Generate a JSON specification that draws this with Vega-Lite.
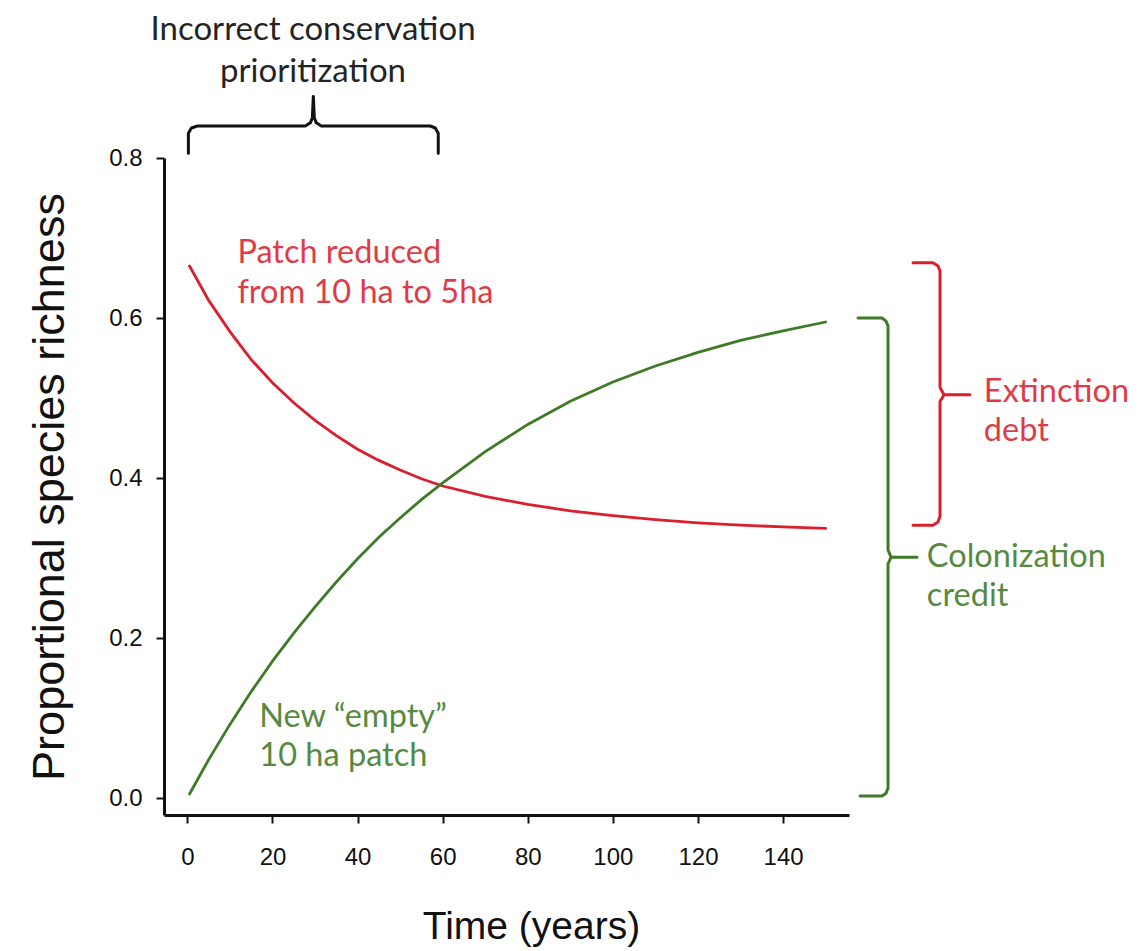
{
  "$schema": "https://vega.github.io/schema/vega-lite/v6.json",
  "width": 685,
  "height": 657,
  "autosize": {"type": "none"},
  "padding": {"left": 164, "top": 158, "right": 291, "bottom": 136},
  "background": "white",
  "config": {
    "view": {"stroke": null},
    "axis": {"grid": false}
  },
  "datasets": {
    "curves": [
      {"kind": "extinction", "time": 0.5, "richness": 0.665},
      {"kind": "extinction", "time": 5, "richness": 0.622},
      {"kind": "extinction", "time": 10, "richness": 0.583},
      {"kind": "extinction", "time": 15, "richness": 0.548},
      {"kind": "extinction", "time": 20, "richness": 0.519},
      {"kind": "extinction", "time": 25, "richness": 0.494},
      {"kind": "extinction", "time": 30, "richness": 0.472},
      {"kind": "extinction", "time": 35, "richness": 0.453},
      {"kind": "extinction", "time": 40, "richness": 0.436},
      {"kind": "extinction", "time": 45, "richness": 0.422},
      {"kind": "extinction", "time": 50, "richness": 0.41},
      {"kind": "extinction", "time": 55, "richness": 0.399},
      {"kind": "extinction", "time": 60, "richness": 0.39},
      {"kind": "extinction", "time": 70, "richness": 0.377},
      {"kind": "extinction", "time": 80, "richness": 0.367},
      {"kind": "extinction", "time": 90, "richness": 0.359},
      {"kind": "extinction", "time": 100, "richness": 0.353},
      {"kind": "extinction", "time": 110, "richness": 0.348},
      {"kind": "extinction", "time": 120, "richness": 0.344},
      {"kind": "extinction", "time": 130, "richness": 0.341},
      {"kind": "extinction", "time": 140, "richness": 0.339},
      {"kind": "extinction", "time": 150, "richness": 0.337},
      {"kind": "colonization", "time": 0.5, "richness": 0.005},
      {"kind": "colonization", "time": 5, "richness": 0.048},
      {"kind": "colonization", "time": 10, "richness": 0.092},
      {"kind": "colonization", "time": 15, "richness": 0.133},
      {"kind": "colonization", "time": 20, "richness": 0.171},
      {"kind": "colonization", "time": 25, "richness": 0.206},
      {"kind": "colonization", "time": 30, "richness": 0.239},
      {"kind": "colonization", "time": 35, "richness": 0.27},
      {"kind": "colonization", "time": 40, "richness": 0.299},
      {"kind": "colonization", "time": 45, "richness": 0.326},
      {"kind": "colonization", "time": 50, "richness": 0.35},
      {"kind": "colonization", "time": 55, "richness": 0.373},
      {"kind": "colonization", "time": 60, "richness": 0.394},
      {"kind": "colonization", "time": 70, "richness": 0.433},
      {"kind": "colonization", "time": 80, "richness": 0.467},
      {"kind": "colonization", "time": 90, "richness": 0.496},
      {"kind": "colonization", "time": 100, "richness": 0.52},
      {"kind": "colonization", "time": 110, "richness": 0.54},
      {"kind": "colonization", "time": 120, "richness": 0.557},
      {"kind": "colonization", "time": 130, "richness": 0.572},
      {"kind": "colonization", "time": 140, "richness": 0.584},
      {"kind": "colonization", "time": 150, "richness": 0.595}
    ],
    "braces": [
      {"brace": "top", "kind": "neutral", "order": 1, "time": 0.23, "richness": 0.806},
      {"brace": "top", "kind": "neutral", "order": 2, "time": 0.23, "richness": 0.831},
      {"brace": "top", "kind": "neutral", "order": 3, "time": 0.94, "richness": 0.8375},
      {"brace": "top", "kind": "neutral", "order": 4, "time": 2.35, "richness": 0.84},
      {"brace": "top", "kind": "neutral", "order": 5, "time": 27.72, "richness": 0.84},
      {"brace": "top", "kind": "neutral", "order": 6, "time": 28.89, "richness": 0.844},
      {"brace": "top", "kind": "neutral", "order": 7, "time": 29.36, "richness": 0.85},
      {"brace": "top", "kind": "neutral", "order": 8, "time": 29.6, "richness": 0.877},
      {"brace": "top", "kind": "neutral", "order": 9, "time": 29.83, "richness": 0.85},
      {"brace": "top", "kind": "neutral", "order": 10, "time": 30.3, "richness": 0.844},
      {"brace": "top", "kind": "neutral", "order": 11, "time": 31.48, "richness": 0.84},
      {"brace": "top", "kind": "neutral", "order": 12, "time": 57.08, "richness": 0.84},
      {"brace": "top", "kind": "neutral", "order": 13, "time": 58.26, "richness": 0.8375},
      {"brace": "top", "kind": "neutral", "order": 14, "time": 58.96, "richness": 0.831},
      {"brace": "top", "kind": "neutral", "order": 15, "time": 58.96, "richness": 0.806},
      {"brace": "red", "kind": "extinction", "order": 1, "time": 170.55, "richness": 0.669},
      {"brace": "red", "kind": "extinction", "order": 2, "time": 175.24, "richness": 0.669},
      {"brace": "red", "kind": "extinction", "order": 3, "time": 176.42, "richness": 0.665},
      {"brace": "red", "kind": "extinction", "order": 4, "time": 176.89, "richness": 0.659},
      {"brace": "red", "kind": "extinction", "order": 5, "time": 176.89, "richness": 0.513},
      {"brace": "red", "kind": "extinction", "order": 6, "time": 177.83, "richness": 0.504},
      {"brace": "red", "kind": "extinction", "order": 7, "time": 183.93, "richness": 0.504},
      {"brace": "red", "kind": "extinction", "order": 8, "time": 177.83, "richness": 0.504},
      {"brace": "red", "kind": "extinction", "order": 9, "time": 176.89, "richness": 0.4955},
      {"brace": "red", "kind": "extinction", "order": 10, "time": 176.89, "richness": 0.3525},
      {"brace": "red", "kind": "extinction", "order": 11, "time": 176.42, "richness": 0.345},
      {"brace": "red", "kind": "extinction", "order": 12, "time": 175.24, "richness": 0.341},
      {"brace": "red", "kind": "extinction", "order": 13, "time": 170.55, "richness": 0.341},
      {"brace": "green", "kind": "colonization", "order": 1, "time": 157.62, "richness": 0.6},
      {"brace": "green", "kind": "colonization", "order": 2, "time": 163.26, "richness": 0.6},
      {"brace": "green", "kind": "colonization", "order": 3, "time": 164.2, "richness": 0.596},
      {"brace": "green", "kind": "colonization", "order": 4, "time": 164.67, "richness": 0.59},
      {"brace": "green", "kind": "colonization", "order": 5, "time": 164.67, "richness": 0.31},
      {"brace": "green", "kind": "colonization", "order": 6, "time": 165.38, "richness": 0.301},
      {"brace": "green", "kind": "colonization", "order": 7, "time": 171.49, "richness": 0.301},
      {"brace": "green", "kind": "colonization", "order": 8, "time": 165.38, "richness": 0.301},
      {"brace": "green", "kind": "colonization", "order": 9, "time": 164.67, "richness": 0.2925},
      {"brace": "green", "kind": "colonization", "order": 10, "time": 164.67, "richness": 0.0125},
      {"brace": "green", "kind": "colonization", "order": 11, "time": 164.2, "richness": 0.006},
      {"brace": "green", "kind": "colonization", "order": 12, "time": 163.26, "richness": 0.0025},
      {"brace": "green", "kind": "colonization", "order": 13, "time": 158.1, "richness": 0.0025}
    ],
    "labels": [
      {"label": "Incorrect conservation", "kind": "neutral", "place": "center", "time": 29.53, "richness": 0.9475},
      {"label": "prioritization", "kind": "neutral", "place": "center", "time": 29.53, "richness": 0.895},
      {"label": "Patch reduced", "kind": "extinction", "place": "left", "time": 11.75, "richness": 0.669},
      {"label": "from 10 ha to 5ha", "kind": "extinction", "place": "left", "time": 11.75, "richness": 0.619},
      {"label": "New “empty”", "kind": "colonization", "place": "left", "time": 16.9, "richness": 0.0888},
      {"label": "10 ha patch", "kind": "colonization", "place": "left", "time": 16.9, "richness": 0.0405},
      {"label": "Extinction", "kind": "extinction", "place": "left", "time": 187.2, "richness": 0.495},
      {"label": "debt", "kind": "extinction", "place": "left", "time": 187.2, "richness": 0.4465},
      {"label": "Colonization", "kind": "colonization", "place": "left", "time": 173.8, "richness": 0.289},
      {"label": "credit", "kind": "colonization", "place": "left", "time": 173.8, "richness": 0.24}
    ]
  },
  "layer": [
    {
      "data": {"name": "curves"},
      "mark": {"type": "line", "strokeWidth": 2.8, "strokeCap": "round"},
      "encoding": {
        "x": {
          "field": "time", "type": "quantitative",
          "scale": {"domain": [-5.5, 155.5], "nice": false, "zero": false},
          "axis": {
            "title": "Time (years)", "values": [0, 20, 40, 60, 80, 100, 120, 140],
            "domainColor": "#111111", "domainWidth": 3, "tickColor": "#111111", "tickWidth": 2, "tickSize": 8,
            "labelFont": "Liberation Sans", "labelFontSize": 24, "labelColor": "#111111", "labelPadding": 22,
            "titleFont": "Liberation Sans", "titleFontSize": 39, "titleFontWeight": "normal", "titleColor": "#111111", "titlePadding": 38,
            "titleX": 367
          }
        },
        "y": {
          "field": "richness", "type": "quantitative",
          "scale": {"domain": [-0.02125, 0.8], "nice": false, "zero": false},
          "axis": {
            "title": "Proportional species richness", "values": [0, 0.2, 0.4, 0.6, 0.8], "format": ".1f",
            "domainColor": "#111111", "domainWidth": 3, "tickColor": "#111111", "tickWidth": 2, "tickSize": 8,
            "labelFont": "Liberation Sans", "labelFontSize": 24, "labelColor": "#111111", "labelPadding": 14,
            "titleFont": "Liberation Sans", "titleFontSize": 45, "titleFontWeight": "normal", "titleColor": "#111111", "titlePadding": 36
          }
        },
        "color": {
          "field": "kind", "type": "nominal",
          "scale": {"domain": ["extinction", "colonization", "neutral"], "range": ["#da1f2e", "#3f7a26", "#111111"]},
          "legend": null
        },
        "detail": {"field": "kind"}
      }
    },
    {
      "data": {"name": "braces"},
      "mark": {"type": "line", "strokeWidth": 3, "strokeJoin": "round", "strokeCap": "round", "clip": false},
      "encoding": {
        "x": {"field": "time", "type": "quantitative"},
        "y": {"field": "richness", "type": "quantitative"},
        "color": {"field": "kind", "type": "nominal", "legend": null},
        "detail": {"field": "brace"},
        "order": {"field": "order", "type": "quantitative"}
      }
    },
    {
      "data": {"name": "labels"},
      "transform": [{"filter": "datum.place === 'center'"}],
      "mark": {"type": "text", "font": "Lato", "fontSize": 33, "align": "center", "baseline": "alphabetic", "opacity": 0.92},
      "encoding": {
        "x": {"field": "time", "type": "quantitative"},
        "y": {"field": "richness", "type": "quantitative"},
        "text": {"field": "label"},
        "color": {"field": "kind", "type": "nominal", "legend": null}
      }
    },
    {
      "data": {"name": "labels"},
      "transform": [{"filter": "datum.place === 'left'"}],
      "mark": {"type": "text", "font": "Lato", "fontSize": 32.5, "align": "left", "baseline": "alphabetic", "opacity": 0.88},
      "encoding": {
        "x": {"field": "time", "type": "quantitative"},
        "y": {"field": "richness", "type": "quantitative"},
        "text": {"field": "label"},
        "color": {"field": "kind", "type": "nominal", "legend": null}
      }
    }
  ]
}
